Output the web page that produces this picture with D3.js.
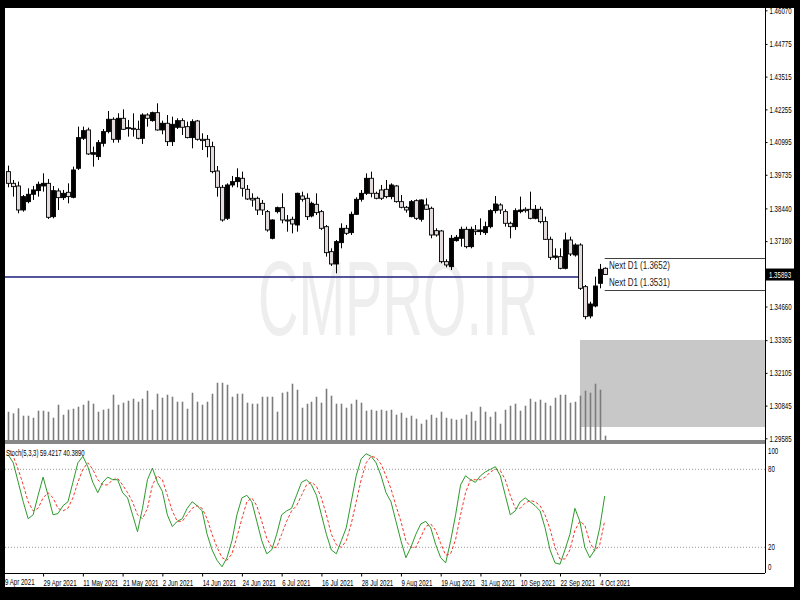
<!DOCTYPE html>
<html><head><meta charset="utf-8">
<script src="https://cdn.jsdelivr.net/npm/d3@7"></script>
<style>body{margin:0;background:#000;} svg{display:block}</style>
</head><body>
<svg id="c" width="800" height="600"></svg>
<script>
// ---------- DATA ----------
const opens=[1.39856,1.39406,1.39304,1.38379,1.38700,1.38983,1.39124,1.39304,1.39406,1.38122,
1.39111,1.38854,1.39060,1.38867,1.39984,1.41140,1.41461,1.40524,1.40434,1.40947,
1.41397,1.41872,1.41101,1.41910,1.41551,1.41525,1.41486,1.41140,1.42038,1.41820,
1.42128,1.41461,1.41718,1.41011,1.41564,1.41820,1.41589,1.41166,1.41807,1.41101,
1.41101,1.40819,1.39881,1.39252,1.38058,1.39342,1.39471,1.39599,1.39175,1.38829,
1.38829,1.38636,1.38315,1.37288,1.38315,1.38469,1.37994,1.38020,1.37801,1.38918,
1.38829,1.38148,1.38598,1.38315,1.37737,1.36774,1.36299,1.37121,1.37673,1.37506,
1.38212,1.38790,1.39021,1.39599,1.39021,1.39150,1.39175,1.38893,1.39304,1.38700,
1.38482,1.38122,1.38739,1.38020,1.38572,1.38443,1.37583,1.37570,1.36389,1.36196,
1.37198,1.37288,1.37634,1.36967,1.37609,1.37545,1.37506,1.37737,1.38353,1.38572,
1.38315,1.37866,1.37737,1.38315,1.38405,1.38405,1.38058,1.38405,1.37930,1.37249,
1.36556,1.36582,1.36132,1.37224,1.36646,1.37031,1.35426,1.34296,1.34681,1.35555,1.36133];
const highs=[1.40087,1.39535,1.39471,1.38957,1.39214,1.39304,1.39471,1.39792,1.39574,1.39304,
1.39214,1.39150,1.39406,1.40048,1.41589,1.41589,1.41551,1.40819,1.41076,1.41499,
1.42193,1.41949,1.42103,1.42257,1.41846,1.42103,1.41820,1.42103,1.42103,1.42167,
1.42488,1.41820,1.42038,1.41974,1.41910,1.41910,1.41782,1.41872,1.41846,1.41332,
1.41268,1.41011,1.40074,1.39342,1.39406,1.39689,1.39984,1.39856,1.39342,1.39021,
1.38893,1.38764,1.38379,1.38020,1.38508,1.39021,1.38186,1.38122,1.39047,1.39085,
1.39021,1.38700,1.39021,1.38379,1.37801,1.36903,1.37224,1.37865,1.37801,1.38315,
1.38867,1.39150,1.39791,1.39856,1.39085,1.39342,1.39535,1.39406,1.39342,1.38957,
1.38533,1.38764,1.38790,1.38790,1.38829,1.38508,1.37673,1.37609,1.36479,1.37416,
1.37416,1.37737,1.37737,1.37737,1.37801,1.38058,1.37930,1.38405,1.38918,1.38636,
1.38405,1.37930,1.38443,1.38893,1.38482,1.39085,1.38572,1.38507,1.38122,1.37352,
1.36902,1.36902,1.37506,1.37352,1.37095,1.37095,1.35490,1.34848,1.35811,1.36300,1.36170];
const lows=[1.39252,1.38893,1.38251,1.38315,1.38636,1.38765,1.38893,1.39085,1.38032,1.38058,
1.38379,1.38765,1.38636,1.38829,1.39920,1.41076,1.40498,1.40048,1.40305,1.40819,
1.41332,1.40973,1.40973,1.41461,1.41204,1.41204,1.41101,1.40922,1.41589,1.41782,
1.41435,1.41294,1.40844,1.40844,1.41499,1.41268,1.41140,1.40755,1.41050,1.40690,
1.40408,1.39792,1.38893,1.37930,1.37994,1.39252,1.39252,1.38893,1.38765,1.38508,
1.38187,1.38186,1.37544,1.37250,1.38250,1.37865,1.37544,1.37480,1.37544,1.38700,
1.37994,1.38096,1.38186,1.37609,1.36582,1.36222,1.35940,1.36903,1.37416,1.37416,
1.38186,1.38700,1.38957,1.38867,1.38790,1.38764,1.38829,1.38790,1.38662,1.38443,
1.38276,1.38096,1.37994,1.37930,1.38379,1.37288,1.37352,1.36325,1.36171,1.36068,
1.37159,1.36967,1.36902,1.36902,1.37416,1.37416,1.37416,1.37673,1.38251,1.38225,
1.37737,1.37288,1.37609,1.38251,1.38276,1.38020,1.38020,1.37866,1.37224,1.36453,
1.36479,1.36094,1.36094,1.36607,1.36582,1.35298,1.34168,1.34206,1.34630,1.35363,1.35880];
const closes=[1.39406,1.39278,1.38379,1.38893,1.38983,1.39150,1.39368,1.39406,1.38097,1.39124,
1.38854,1.39021,1.38893,1.39920,1.41166,1.41435,1.40536,1.40588,1.40973,1.41397,
1.41872,1.41101,1.41910,1.41486,1.41525,1.41512,1.41140,1.42038,1.41910,1.42128,
1.41461,1.41718,1.41011,1.41679,1.41820,1.41564,1.41166,1.41782,1.41101,1.41050,
1.40819,1.39856,1.39252,1.37994,1.39342,1.39471,1.39625,1.39214,1.38803,1.38765,
1.38379,1.38379,1.37609,1.37994,1.38469,1.37994,1.37955,1.37840,1.39021,1.38790,
1.38122,1.38636,1.38276,1.37673,1.36736,1.36299,1.37160,1.37673,1.37480,1.38212,
1.38790,1.39021,1.39599,1.39021,1.38829,1.38829,1.38893,1.39342,1.38700,1.38482,
1.38379,1.38700,1.38058,1.38764,1.38405,1.37416,1.37416,1.36389,1.36261,1.37288,
1.37326,1.37634,1.36967,1.37634,1.37545,1.37609,1.37737,1.38353,1.38610,1.38379,
1.37866,1.37737,1.38353,1.38379,1.38353,1.38058,1.38405,1.37930,1.37249,1.36556,
1.36607,1.36132,1.37224,1.36684,1.37031,1.35362,1.34271,1.34758,1.35452,1.36094,1.35893];
// tick volume (thousands)
const volumes=[28.3,26.7,31.7,24.3,24.3,22.3,29.3,29.3,28.3,22.3,35.3,25.3,30.3,31.3,33.3,35.3,39.3,36.3,28.3,30.3,
31.3,45.3,35.3,37.3,39.3,41.3,38.3,41.3,49.3,30.3,46.3,42.3,45.3,43.3,38.3,38.3,31.3,47.3,38.3,35.3,
38.3,46.3,57.3,57.3,55.3,43.3,46.3,46.3,37.3,36.3,36.3,43.3,43.3,43.3,28.3,47.3,48.3,56.3,50.3,
32.3,36.3,38.3,43.3,37.3,51.3,44.3,36.3,36.3,32.3,36.3,40.3,37.3,29.3,30.3,29.3,30.3,29.3,30.3,25.3,
27.3,22.3,24.3,21.3,16.3,20.3,25.3,22.3,28.3,22.3,21.3,20.3,21.3,25.3,28.3,19.3,33.3,28.3,23.3,28.3,
16.3,30.3,34.3,36.3,29.3,34.3,41.3,38.3,40.3,37.3,34.3,42.3,45.3,45.3,37.3,38.3,44.3,49.3,47.3,56.3,50.3,4.3];
const stochK=[91,85,70,55,42,45,60,74,60,45,46,52,55,70,85,90,82,70,62,70,
74,72,72,62,58,45,32,50,72,81,70,63,45,36,40,42,50,55,52,48,
30,18,10,5,12,25,45,58,60,55,40,25,15,18,30,45,48,50,60,70,
72,68,60,45,30,18,15,25,35,55,75,88,92,90,85,75,62,55,40,25,
12,20,30,38,40,35,22,12,8,25,45,68,75,72,70,75,78,80,82,75,
60,45,48,55,58,55,52,48,35,18,8,7,18,30,50,40,20,12,18,35,59.4217];
const stochD=[95,90,80,68,55,48,50,58,62,58,50,48,50,58,70,80,85,80,72,68,
68,72,73,68,62,55,45,42,50,68,75,72,60,48,40,40,45,50,52,50,
42,30,20,12,10,15,28,42,55,58,52,40,27,20,20,30,40,48,52,60,
68,70,67,58,45,30,22,20,25,38,55,72,85,90,89,84,75,65,52,40,
25,20,20,28,36,38,33,23,14,15,26,45,62,72,72,72,74,78,80,79,
72,60,50,50,54,56,55,52,45,34,20,11,11,18,33,40,37,24,17,22,40.389];
const priceTicks=[1.46070,1.44775,1.43515,1.42255,1.40995,1.39735,1.38440,1.37180,1.34660,1.33365,1.32105,1.30845,1.29585];
const dateTickBars=[7,15,23,31,39,47,55,63,71,79,87,95,103,111,119];
const dateTickLabels=["29 Apr 2021","11 May 2021","21 May 2021","2 Jun 2021","14 Jun 2021","24 Jun 2021","6 Jul 2021","16 Jul 2021","28 Jul 2021","9 Aug 2021","19 Aug 2021","31 Aug 2021","10 Sep 2021","22 Sep 2021","4 Oct 2021"];
const firstDateLabel="9 Apr 2021";
const stochLevels=[80,20];
const stochAxisTicks=[100,80,20,0];
const bidPrice=1.35893;
const hLinePrice=1.3580;
const nextD1=[1.3652,1.3531];
const stochTitle="Stoch(5,3,3) 59.4217 40.3890";

// ---------- LAYOUT ----------
const L=5, R=765, PT=8, PB=440, ST=444, SB=573;
const svg=d3.select("#c");
const font="'Liberation Sans', Arial, sans-serif";
const SQ=0.72;
// horizontally condensed text placed at (px,py)
function ctext(parent,px,py,str,size,fill,f){
  return parent.append("text").attr("transform",`translate(${px},${py}) scale(${f},1)`)
    .attr("font-family",font).attr("font-size",size).attr("fill",fill).text(str);
}

svg.append("rect").attr("width",800).attr("height",600).attr("fill","#000");
svg.append("rect").attr("x",5).attr("y",8).attr("width",789).attr("height",579).attr("fill","#fff");

const n=closes.length;
const x=d3.scaleLinear().domain([0,n-1]).range([8.3,604.7]);
const y=d3.scaleLinear().domain([1.29585,1.46070]).range([438.3,10.3]);
const yv=d3.scaleLinear().domain([0,60]).range([PB,PB-60]);
const ys=d3.scaleLinear().domain([0,100]).range([573.3,443.3]);

// watermark (scaled to its width in the reference)
const wm=svg.append("text").attr("font-family",font).attr("font-size",106).attr("fill","#eeeeee").text("CMPRO.IR");
const wmLen=wm.node().getComputedTextLength()||530;
wm.attr("transform",`translate(258,335) scale(${280/wmLen},1)`);

// gray rectangle
svg.append("rect").attr("x",580).attr("y",340).attr("width",R-580).attr("height",87).attr("fill","#c8c8c8");

// volumes
svg.append("g").selectAll("line").data(volumes).join("line")
 .attr("x1",(d,i)=>Math.round(x(i))+0.5).attr("x2",(d,i)=>Math.round(x(i))+0.5)
 .attr("y1",PB).attr("y2",d=>yv(d)).attr("stroke","#7c7c7c").attr("stroke-width",1.6);

// horizontal navy line
svg.append("line").attr("x1",L).attr("x2",x(115)).attr("y1",y(hLinePrice)).attr("y2",y(hLinePrice))
 .attr("stroke","#1c1c78").attr("stroke-width",1.5);

// Next D1 lines
nextD1.forEach((p,k)=>{
  svg.append("line").attr("x1",x(120)).attr("x2",R).attr("y1",Math.round(y(p))+0.5).attr("y2",Math.round(y(p))+0.5)
   .attr("stroke","#404040").attr("stroke-width",1);
  ctext(svg,609,k===0?y(p)+10.5:y(p)-3.5,"Next D1 ("+p.toFixed(4)+")",10,"#222",0.8);
});

// candles
const cg=svg.append("g");
for(let i=0;i<n;i++){
  const cx=Math.round(x(i))+0.5;
  cg.append("line").attr("x1",cx).attr("x2",cx).attr("y1",y(highs[i])).attr("y2",y(lows[i])).attr("stroke","#000").attr("stroke-width",1);
  const top=y(Math.max(opens[i],closes[i])), bot=y(Math.min(opens[i],closes[i]));
  const bull=closes[i]>opens[i];
  cg.append("rect").attr("x",cx-2).attr("y",top).attr("width",4).attr("height",Math.max(1,bot-top))
   .attr("fill",bull?"#000":"#e4dcdc").attr("stroke","#000").attr("stroke-width",0.9);
}

// pane separator
svg.append("rect").attr("x",L).attr("y",PB).attr("width",R-L).attr("height",ST-PB).attr("fill","#888");

// stochastic levels
stochLevels.forEach(v=>{
  svg.append("line").attr("x1",L).attr("x2",R).attr("y1",ys(v)).attr("y2",ys(v))
   .attr("stroke","#9a9a9a").attr("stroke-width",1).attr("stroke-dasharray","1,2");
});
const line=d3.line().x((d,i)=>x(i)).y(d=>ys(d));
svg.append("path").datum(stochD).attr("d",line).attr("fill","none").attr("stroke","#f03a30").attr("stroke-width",1).attr("stroke-dasharray","3,2");
svg.append("path").datum(stochK).attr("d",line).attr("fill","none").attr("stroke","#2c9a2c").attr("stroke-width",1);

ctext(svg,6,456,stochTitle,8.5,"#000",0.7);

// axes lines
svg.append("line").attr("x1",R+0.5).attr("x2",R+0.5).attr("y1",PT).attr("y2",SB).attr("stroke","#000");
svg.append("line").attr("x1",L).attr("x2",R).attr("y1",SB+0.5).attr("y2",SB+0.5).attr("stroke","#000");

// price axis
const pa=svg.append("g").attr("transform",`translate(${R+0.5},0)`)
 .call(d3.axisRight(y).tickValues(priceTicks).tickFormat(d3.format(".5f")).tickSize(2).tickPadding(2));
pa.select(".domain").remove();
pa.selectAll("text").attr("font-family",font).attr("font-size",8.5).attr("fill","#000")
  .attr("x",4/SQ).attr("transform",`scale(${SQ},1)`);

// bid label
svg.append("rect").attr("x",R+1).attr("y",y(bidPrice)-6).attr("width",28).attr("height",12).attr("fill","#000");
ctext(svg,R+4,y(bidPrice)+3,bidPrice.toFixed(5),8.5,"#fff",SQ);

// stoch axis labels
stochAxisTicks.forEach(v=>{
  const yy=v===100?ys(v)+7.5:(v===0?ys(v)-6.5:ys(v));
  ctext(svg,R+3,yy+3,String(v),8.5,"#000",SQ);
});

// date axis
const da=svg.append("g").attr("transform",`translate(0,${SB+0.5})`)
 .call(d3.axisBottom(x).tickValues(dateTickBars).tickFormat((d,i)=>dateTickLabels[i]).tickSize(3).tickPadding(3));
da.select(".domain").remove();
da.selectAll("text").attr("text-anchor","start").attr("x",0).attr("font-family",font).attr("font-size",8.5).attr("fill","#000")
  .attr("transform",`scale(${SQ},1)`);
ctext(svg,5,585,firstDateLabel,8.5,"#000",SQ);

// black frame on top
svg.append("rect").attr("x",0).attr("y",0).attr("width",800).attr("height",8).attr("fill","#000");
</script>
</body></html>
